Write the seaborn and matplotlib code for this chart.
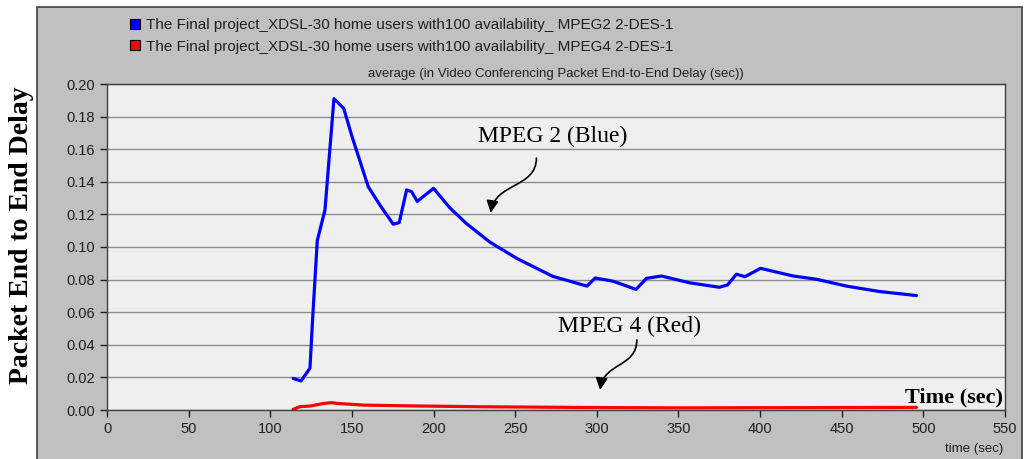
import matplotlib
matplotlib.use("Agg")
import matplotlib.pyplot as plt
from matplotlib.patches import Rectangle, Patch, FancyArrowPatch
from matplotlib.path import Path
import seaborn as sns
import pandas as pd

# ======================
# Data
# ======================
mpeg2_time = [114, 118.8, 124.3, 126, 128.8, 133.5, 139, 145, 150, 160, 167, 175.3,
              179, 183.5, 186.5, 190, 200, 210, 220, 234.5, 251, 273, 294, 299,
              310, 324, 330.5, 339.6, 357, 375, 380, 385.5, 390.7, 400.3, 420.3,
              434.6, 453, 473, 495.8]
mpeg2_delay = [0.0194, 0.0178, 0.0256, 0.057, 0.104, 0.1227, 0.191, 0.185, 0.168,
               0.137, 0.126, 0.114, 0.115, 0.135, 0.134, 0.128, 0.136, 0.124,
               0.1145, 0.103, 0.093, 0.082, 0.076, 0.081, 0.079, 0.074, 0.0808,
               0.0822, 0.078, 0.0753, 0.0767, 0.0833, 0.0818, 0.0869, 0.0822,
               0.0802, 0.076, 0.0727, 0.0702]

mpeg4_time = [114, 118, 125, 132.5, 137.5, 141.5, 157, 187.6, 228, 300, 350, 400, 450, 495.8]
mpeg4_delay = [0.0004, 0.002, 0.0025, 0.004, 0.0045, 0.004, 0.003, 0.0025, 0.002,
               0.0015, 0.0013, 0.0014, 0.0015, 0.0016]

series_names = ["The Final project_XDSL-30 home users with100 availability_ MPEG2 2-DES-1",
                "The Final project_XDSL-30 home users with100 availability_ MPEG4 2-DES-1"]
series_colors = ["#0000ff", "#ff0000"]

x_ticks = list(range(0, 551, 50))
y_ticks = [0.00, 0.02, 0.04, 0.06, 0.08, 0.10, 0.12, 0.14, 0.16, 0.18, 0.20]

df = pd.concat([
    pd.DataFrame({"time": mpeg2_time, "delay": mpeg2_delay, "series": series_names[0]}),
    pd.DataFrame({"time": mpeg4_time, "delay": mpeg4_delay, "series": series_names[1]}),
])

# ======================
# Figure
# ======================
sns.set_theme(style="ticks")
plt.rcParams["font.family"] = ["Liberation Sans", "DejaVu Sans"]
plt.rcParams["text.color"] = "black"

W, H = 1026, 459
fig = plt.figure(figsize=(W / 100, H / 100), dpi=100)
fig.patch.set_facecolor("white")

# grey panel behind the chart
panel = Rectangle((37 / W, -0.02), (1022 - 37) / W, 1.02 - 7 / H,
                  transform=fig.transFigure, facecolor="#c0c0c0",
                  edgecolor="#404040", linewidth=1.2, zorder=-5)
fig.add_artist(panel)

ax = fig.add_axes([107 / W, 1 - 410 / H, (1005 - 107) / W, (410 - 84) / H])
ax.set_facecolor("#efefef")

sns.lineplot(data=df, x="time", y="delay", hue="series", palette=series_colors,
             linewidth=2.3, legend=False, sort=False, ax=ax)

ax.set_xlim(0, 550)
ax.set_ylim(0, 0.20)
ax.set_xticks(x_ticks)
ax.set_yticks(y_ticks)
ax.set_yticklabels([f"{v:.2f}" for v in y_ticks])
ax.tick_params(labelsize=10.5, colors="#202020", length=5, width=1)
ax.yaxis.grid(True, color="#8c8c8c", linewidth=1)
ax.xaxis.grid(False)
for side in ["left", "bottom", "top", "right"]:
    ax.spines[side].set_visible(True)
    ax.spines[side].set_color("#404040")
    ax.spines[side].set_linewidth(1)
ax.set_xlabel("")
ax.set_ylabel("")

# ======================
# Texts
# ======================
ax.set_title("average (in Video Conferencing Packet End-to-End Delay (sec))",
             fontsize=9.5, color="#202020", pad=5)

handles = [Patch(facecolor=c, edgecolor="black", linewidth=0.8) for c in series_colors]
fig.legend(handles, series_names, loc="upper left", bbox_to_anchor=(124 / W, 1 - 12 / H),
           frameon=False, fontsize=11, handlelength=0.65, handleheight=0.65,
           handletextpad=0.4, labelspacing=0.5, borderaxespad=0, labelcolor="#202020")

fig.text(22 / W, 1 - 235 / H, "Packet End to End Delay", rotation=90, ha="center",
         va="center", fontsize=20, fontweight="bold", family="Liberation Serif")
fig.text(1003 / W, 1 - 449 / H, "time (sec)", ha="right", va="center",
         fontsize=9.5, color="#202020")

ax.text(519, 0.0075, "Time (sec)", ha="center", va="center", fontsize=16,
        fontweight="bold", family="Liberation Serif")
ax.text(273, 0.168, "MPEG 2 (Blue)", ha="center", va="center", fontsize=17,
        family="Liberation Serif")
ax.text(320, 0.051, "MPEG 4 (Red)", ha="center", va="center", fontsize=17,
        family="Liberation Serif")

# S-shaped hand-drawn style arrows
for x0, y0, x1, y1 in [(263, 0.1546, 235, 0.121), (324.5, 0.043, 302, 0.0123)]:
    dy = y1 - y0
    verts = [(x0, y0), (x0, y0 + 0.55 * dy), (x1 + 0.1 * (x0 - x1), y0 + 0.45 * dy), (x1, y1)]
    curve = Path(verts, [Path.MOVETO, Path.CURVE4, Path.CURVE4, Path.CURVE4])
    ax.add_patch(FancyArrowPatch(path=curve, arrowstyle="-|>", color="black",
                                 linewidth=1.2, mutation_scale=18,
                                 transform=ax.transData))

fig.savefig("out.png", dpi=100)
